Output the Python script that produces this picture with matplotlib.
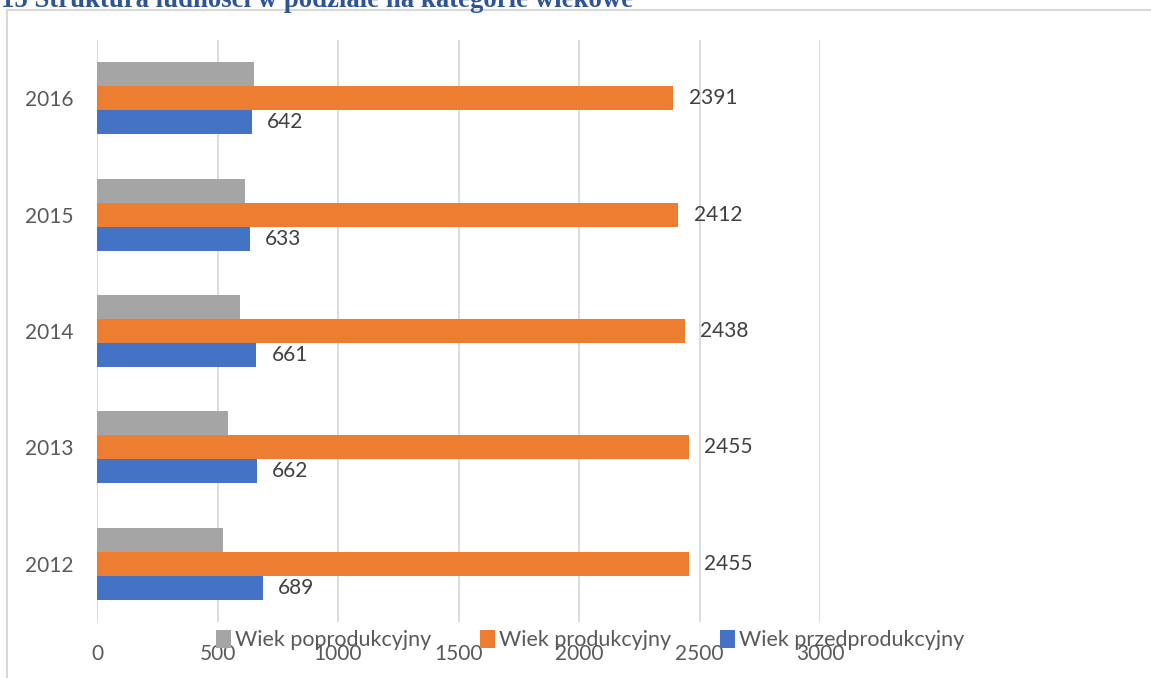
import numpy as np
import matplotlib
matplotlib.use("Agg")
import matplotlib.pyplot as plt
from matplotlib.patches import Rectangle

years = ["2012", "2013", "2014", "2015", "2016"]
poprodukcyjny = [521, 544, 594, 614, 651]      # unlabeled in source
produkcyjny = [2455, 2455, 2438, 2412, 2391]
przedprodukcyjny = [689, 662, 661, 633, 642]

series_names = ["Wiek poprodukcyjny", "Wiek produkcyjny", "Wiek przedprodukcyjny"]
colors = ["#A5A5A5", "#ED7D31", "#4472C4"]
x_ticks = [0, 500, 1000, 1500, 2000, 2500, 3000]

W, H = 1151, 678
plt.rcParams['font.family'] = ['Lato', 'DejaVu Sans']
fig = plt.figure(figsize=(W/100, H/100), dpi=100)

# outer chart frame
fig.patches.append(Rectangle((7.5/W, -0.05), 1.2, 1 - 10.5/H + 0.05, transform=fig.transFigure,
                             fill=False, edgecolor="#d9d9d9", lw=1.5))

fig.text(1/W, 1 - 7/H, "15 Struktura ludności w podziale na kategorie wiekowe",
         family="Liberation Serif", weight="bold", fontsize=19.3, color="#2F5597",
         va="baseline", ha="left")

ax = fig.add_axes([97/W, 1 - 622/H, (820-97)/W, (622-40)/H])
y = np.arange(len(years))
h = 0.206
bars = []
for vals, off, c, name in zip([poprodukcyjny, produkcyjny, przedprodukcyjny],
                              [h, 0, -h], colors, series_names):
    b = ax.barh(y + off, vals, height=h, color=c, label=name, zorder=3)
    bars.append(b)

for b in bars[1:]:
    ax.bar_label(b, padding=11, fontsize=15, color="#404040", clip_on=False)

ax.set_xlim(0, 3000)
ax.set_ylim(-0.5, 4.5)
ax.set_xticks(x_ticks)
ax.set_xticklabels([str(t) for t in x_ticks])
ax.set_yticks(y)
ax.set_yticklabels(years)
ax.tick_params(length=0, labelsize=15, labelcolor="#595959")
ax.tick_params(axis="x", pad=16)
ax.tick_params(axis="y", pad=17)
ax.grid(axis="x", color="#d9d9d9", lw=1.3, zorder=0)
for s in ax.spines.values():
    s.set_visible(False)

fig.legend(handles=bars, labels=series_names, ncol=3, loc="center",
           bbox_to_anchor=(590/W, 1 - 640/H), frameon=False, fontsize=15.5,
           handlelength=0.7, handleheight=0.9, handletextpad=0.15, columnspacing=2.3,
           labelcolor="#595959")

fig.savefig("out.png", dpi=100)
